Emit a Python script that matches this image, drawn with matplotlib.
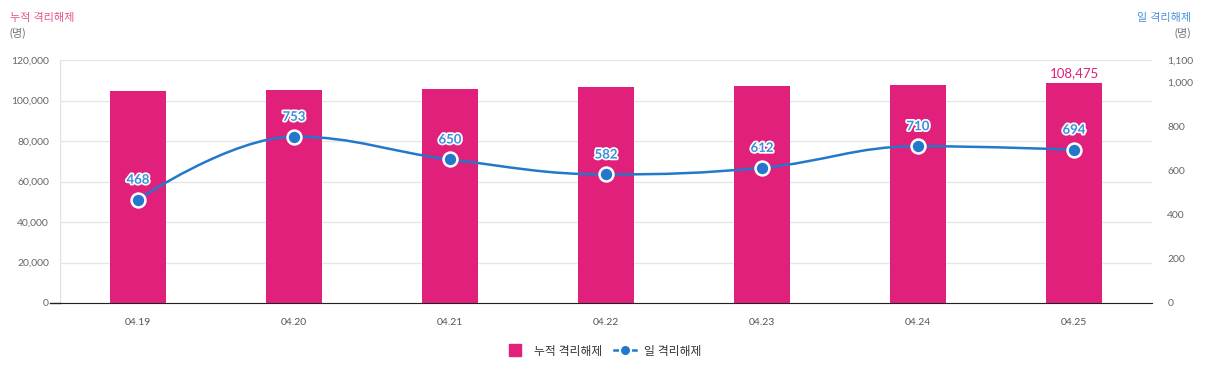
import numpy as np
import matplotlib.pyplot as plt
from matplotlib.path import Path
from matplotlib.patches import PathPatch
import matplotlib.patheffects as pe

plt.rcParams['font.family'] = ['Lato', 'Noto Sans CJK KR', 'DejaVu Sans']

# data
dates = ['04.19', '04.20', '04.21', '04.22', '04.23', '04.24', '04.25']
cumulative = [104474, 105227, 105877, 106459, 107071, 107781, 108475]
daily = [468, 753, 650, 582, 612, 710, 694]

left_ticks = [0, 20000, 40000, 60000, 80000, 100000, 120000]
right_ticks = [0, 200, 400, 600, 800, 1000, 1100]

PINK = '#E0207A'
BLUE = '#2378CC'
LABEL_BLUE = '#3A8EDB'


def spline_path(xs, ys, smoothing=1.5):
    # highcharts-style spline through the points
    n = len(xs)
    lc = [None] * n
    rc = [None] * n
    d = smoothing + 1
    for i in range(1, n - 1):
        px, py = xs[i], ys[i]
        lx, ly = xs[i - 1], ys[i - 1]
        nx, ny = xs[i + 1], ys[i + 1]
        lcx = (smoothing * px + lx) / d
        lcy = (smoothing * py + ly) / d
        rcx = (smoothing * px + nx) / d
        rcy = (smoothing * py + ny) / d
        if rcx != lcx:
            corr = (rcy - lcy) * (rcx - px) / (rcx - lcx) + py - rcy
            lcy += corr
            rcy += corr
        if lcy > ly and lcy > py:
            lcy = max(ly, py)
            rcy = 2 * py - lcy
        elif lcy < ly and lcy < py:
            lcy = min(ly, py)
            rcy = 2 * py - lcy
        if rcy > ny and rcy > py:
            rcy = max(ny, py)
            lcy = 2 * py - rcy
        elif rcy < ny and rcy < py:
            rcy = min(ny, py)
            lcy = 2 * py - rcy
        lc[i] = (lcx, lcy)
        rc[i] = (rcx, rcy)
    verts = [(xs[0], ys[0])]
    codes = [Path.MOVETO]
    for i in range(1, n):
        c1 = rc[i - 1] if rc[i - 1] else (xs[i - 1], ys[i - 1])
        c2 = lc[i] if lc[i] else (xs[i], ys[i])
        verts += [c1, c2, (xs[i], ys[i])]
        codes += [Path.CURVE4] * 3
    return Path(verts, codes)


fig = plt.figure(figsize=(12.08, 3.76), dpi=100)
ax = fig.add_axes([60 / 1208, 73 / 376, 1092 / 1208, 243 / 376])
ax2 = ax.twinx()

x = np.arange(len(dates))
ax.bar(x, cumulative, width=0.36, color=PINK, zorder=2)
ax.set_xlim(-0.5, len(dates) - 0.5)
ax.set_ylim(0, 120000)
ax.set_yticks(left_ticks)
ax.set_yticklabels([f'{v:,}' for v in left_ticks])
ax.yaxis.grid(True, color='#e6e6e6', linewidth=1)
ax.set_axisbelow(True)
ax.set_xticks(x)
ax.set_xticklabels(dates)
ax.tick_params(axis='x', length=0, pad=11, labelsize=7.5, labelcolor='#555555')
ax.tick_params(axis='y', length=0, pad=8, labelsize=7.5, labelcolor='#666666')
for s in ['top', 'right', 'left']:
    ax.spines[s].set_visible(False)
ax.spines['bottom'].set_color('#222222')
ax.axvline(-0.5, color='#e0e0e0', linewidth=1, zorder=1)
ax.plot([-10 / 1092, 0], [0, 0], transform=ax.transAxes, color='#222222',
        linewidth=1, clip_on=False)

# last bar label
ax.text(x[-1], cumulative[-1] + 2200, f'{cumulative[-1]:,}', ha='center', va='bottom',
        color=PINK, fontsize=9.5, zorder=5)

ax2.set_ylim(0, 1100)
ax2.set_yticks(right_ticks)
ax2.set_yticklabels([f'{v:,}' for v in right_ticks])
ax2.tick_params(axis='y', length=0, pad=11, labelsize=7.5, labelcolor='#666666')
for s in ax2.spines.values():
    s.set_visible(False)

path = spline_path(list(x.astype(float)), [float(v) for v in daily])
ax2.add_patch(PathPatch(path, facecolor='none', edgecolor=BLUE, linewidth=1.8, zorder=3))
ax2.plot(x, daily, linestyle='none', marker='o', markersize=10, markerfacecolor=BLUE,
         markeredgecolor='white', markeredgewidth=1.8, zorder=4)
for xi, v in zip(x, daily):
    ax2.annotate(str(v), (xi, v), xytext=(0, 10), textcoords='offset points',
                 ha='center', va='bottom', color=LABEL_BLUE, fontsize=9.5, fontweight='bold',
                 path_effects=[pe.withStroke(linewidth=2.5, foreground='white')], zorder=5)

# axis titles
fig.text(10 / 1208, 1 - 18 / 376, '누적 격리해제', color='#E8508F', fontsize=8, va='center', ha='left')
fig.text(10 / 1208, 1 - 33 / 376, '(명)', color='#777777', fontsize=8, va='center', ha='left')
fig.text(1191 / 1208, 1 - 18 / 376, '일 격리해제', color='#4A90D9', fontsize=8, va='center', ha='right')
fig.text(1191 / 1208, 1 - 33 / 376, '(명)', color='#777777', fontsize=8, va='center', ha='right')

# legend
h1 = plt.Line2D([], [], linestyle='none', marker='s', markersize=9, color=PINK)
h2 = plt.Line2D([], [], linestyle='-', color=BLUE, linewidth=1.8, marker='o',
                markersize=8, markerfacecolor=BLUE, markeredgecolor='white',
                markeredgewidth=1.5)
fig.legend([h1, h2], ['누적 격리해제', '일 격리해제'], loc='center',
           bbox_to_anchor=(603 / 1208, 1 - 351 / 376), ncol=2, frameon=False,
           fontsize=8.5, handlelength=1.8, columnspacing=1.0, handletextpad=0.7,
           labelcolor='#333333')

fig.savefig('out.png', dpi=100)
